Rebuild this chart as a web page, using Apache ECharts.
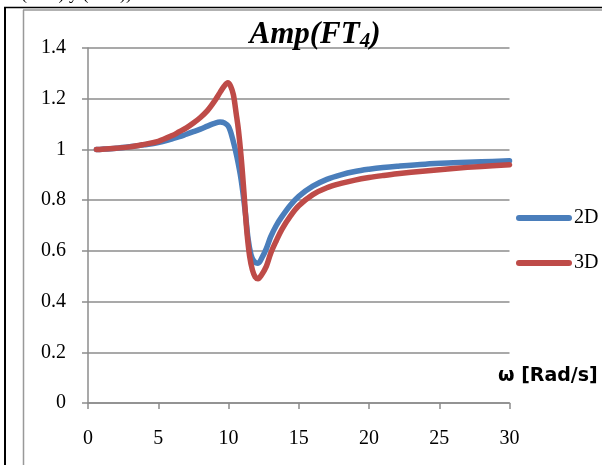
<!DOCTYPE html>
<html>
<head>
<meta charset="utf-8">
<script src="https://cdn.jsdelivr.net/npm/echarts@6/dist/echarts.min.js"></script>
<style>
html,body{margin:0;padding:0;background:#fff;}
#chart{width:602px;height:465px;}
</style>
</head>
<body>
<div id="chart"></div>
<script>
// ω values (rad/s) and amplitudes
const omega2D = [0.6, 1, 2, 3, 4, 5, 6, 6.5, 7, 7.5, 8, 8.5, 9, 9.4, 9.7, 10, 10.3, 10.6, 10.9, 11.2, 11.4, 11.6, 11.8, 12.1, 12.4, 12.7, 13, 13.4, 13.8, 14.4, 15, 16, 17, 18, 19, 20, 21, 22, 24, 26, 28, 30];
const amp2D   = [1.0, 1.001, 1.005, 1.011, 1.018, 1.027, 1.042, 1.05, 1.06, 1.07, 1.08, 1.092, 1.103, 1.108, 1.105, 1.09, 1.04, 0.97, 0.88, 0.75, 0.645, 0.585, 0.56, 0.551, 0.575, 0.61, 0.655, 0.70, 0.735, 0.78, 0.815, 0.855, 0.882, 0.900, 0.913, 0.922, 0.929, 0.934, 0.942, 0.947, 0.951, 0.955];
const omega3D = [0.6, 1, 2, 3, 4, 5, 6, 6.5, 7, 7.5, 8, 8.5, 9, 9.4, 9.7, 9.95, 10.15, 10.35, 10.55, 10.7, 10.9, 11.1, 11.3, 11.5, 11.7, 11.9, 12.1, 12.35, 12.7, 13, 13.4, 13.8, 14.4, 15, 16, 17, 18, 19, 20, 21, 22, 24, 26, 28, 30];
const amp3D   = [1.0, 1.001, 1.005, 1.01, 1.02, 1.032, 1.055, 1.07, 1.085, 1.104, 1.126, 1.153, 1.19, 1.225, 1.25, 1.263, 1.25, 1.215, 1.14, 1.08, 0.97, 0.83, 0.68, 0.58, 0.525, 0.497, 0.49, 0.505, 0.54, 0.59, 0.64, 0.685, 0.737, 0.778, 0.822, 0.849, 0.866, 0.879, 0.889, 0.897, 0.904, 0.915, 0.925, 0.933, 0.94];
const seriesNames = ['2D', '3D'];
const yTicks = [0, 0.2, 0.4, 0.6, 0.8, 1, 1.2, 1.4];
const xTicks = [0, 5, 10, 15, 20, 25, 30];

function pairs(xs, ys){ return xs.map((x,i)=>[x, ys[i]]); }

const chart = echarts.init(document.getElementById('chart'), null, {renderer:'canvas'});
const gray = '#8c8c8c';
const serif = '"Liberation Serif","Times New Roman",serif';
chart.setOption({
  animation:false,
  backgroundColor:'#fff',
  title:{
    text:'{a|Amp(FT}{s|4}{a|)}',
    left:310, top:12, textAlign:'center',
    textStyle:{
      rich:{
        a:{fontFamily:serif, fontSize:31, fontWeight:'bold', fontStyle:'italic', color:'#000', lineHeight:36},
        s:{fontFamily:serif, fontSize:21, fontWeight:'bold', fontStyle:'italic', color:'#000', padding:[14,0,0,0]}
      }
    }
  },
  legend:{
    orient:'vertical', left:511, top:203, itemWidth:50, itemHeight:22, itemGap:25,
    textStyle:{fontFamily:serif, fontSize:20, color:'#000'},
    itemStyle:{opacity:0},
    lineStyle:{width:6, cap:'round'},
    data:seriesNames
  },
  grid:{left:88, right:92.5, top:48, bottom:62, containLabel:false},
  xAxis:{
    type:'value', min:xTicks[0], max:xTicks[xTicks.length-1], interval:5,
    axisLine:{show:true, onZero:false, lineStyle:{color:gray, width:1.5}},
    axisTick:{show:true, length:6, lineStyle:{color:gray, width:1.5}},
    axisLabel:{fontFamily:serif, fontSize:20, color:'#000', margin:26},
    splitLine:{show:false}
  },
  yAxis:{
    type:'value', min:yTicks[0], max:yTicks[yTicks.length-1], interval:0.2,
    axisLine:{show:true, lineStyle:{color:gray, width:1.5}},
    axisTick:{show:true, length:6, lineStyle:{color:gray, width:1.5}},
    axisLabel:{fontFamily:serif, fontSize:20, color:'#000', margin:22},
    splitLine:{show:true, lineStyle:{color:gray, width:1.5}}
  },
  series:[
    {name:seriesNames[0], type:'line', data:pairs(omega2D, amp2D), smooth:0.35, showSymbol:false, symbol:'none',
     lineStyle:{color:'#4a7ebb', width:5.5, cap:'round', join:'round'}, itemStyle:{color:'#4a7ebb'}, z:2},
    {name:seriesNames[1], type:'line', data:pairs(omega3D, amp3D), smooth:0.35, showSymbol:false, symbol:'none',
     lineStyle:{color:'#be4b48', width:5.5, cap:'round', join:'round'}, itemStyle:{color:'#be4b48'}, z:3}
  ],
  graphic:[
    {type:'line', shape:{x1:4, y1:7.5, x2:602, y2:7.5}, style:{stroke:'#000', lineWidth:1.5}, silent:true},
    {type:'line', shape:{x1:5, y1:7, x2:5, y2:465}, style:{stroke:'#000', lineWidth:2}, silent:true},
    {type:'line', shape:{x1:23.5, y1:10, x2:23.5, y2:465}, style:{stroke:'#999', lineWidth:1.5}, silent:true},
    {type:'line', shape:{x1:23, y1:10, x2:602, y2:10}, style:{stroke:'#999', lineWidth:1.5}, silent:true},
    {type:'text', left:21, top:-15, style:{text:'(0.24) y (0.34)).', font:'18px '+serif, fill:'#000'}, silent:true},
    {type:'text', left:498, top:367, style:{text:'ω [Rad/s]', font:'bold 19px "DejaVu Sans", sans-serif', fill:'#000'}, silent:true}
  ]
});
</script>
</body>
</html>
